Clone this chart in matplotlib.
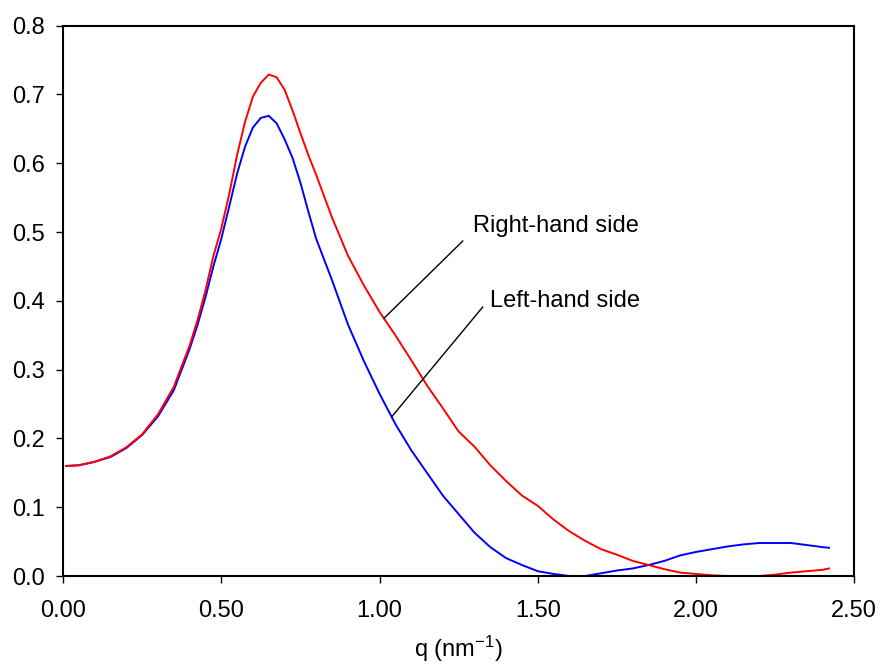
import matplotlib
matplotlib.use('Agg')
import matplotlib.pyplot as plt

plt.rcParams['font.family'] = ['Liberation Sans', 'DejaVu Sans']
plt.rcParams['mathtext.default'] = 'regular'

# scattering vector (nm^-1)
q = [0.01, 0.05, 0.10, 0.15, 0.20, 0.25, 0.30, 0.35, 0.40, 0.425, 0.45, 0.475,
     0.50, 0.525, 0.55, 0.575, 0.60, 0.625, 0.65, 0.675, 0.70, 0.725, 0.75,
     0.775, 0.80, 0.85, 0.90, 0.95, 1.00, 1.05, 1.10, 1.15, 1.20, 1.25, 1.30,
     1.35, 1.40, 1.45, 1.50, 1.55, 1.60, 1.65, 1.70, 1.75, 1.80, 1.85, 1.90,
     1.95, 2.00, 2.05, 2.10, 2.15, 2.20, 2.25, 2.30, 2.35, 2.40, 2.42]

right_side = [0.160, 0.161, 0.166, 0.174, 0.187, 0.206, 0.235, 0.275, 0.335, 0.372,
              0.415, 0.465, 0.505, 0.555, 0.612, 0.660, 0.697, 0.717, 0.729, 0.725,
              0.707, 0.677, 0.644, 0.612, 0.583, 0.521, 0.466, 0.423, 0.384, 0.350,
              0.314, 0.277, 0.244, 0.210, 0.188, 0.161, 0.138, 0.117, 0.102, 0.082,
              0.065, 0.051, 0.039, 0.031, 0.022, 0.016, 0.010, 0.005, 0.003, 0.001,
              0.0, 0.0, 0.0, 0.002, 0.005, 0.007, 0.009, 0.011]

left_side = [0.160, 0.161, 0.166, 0.173, 0.186, 0.205, 0.232, 0.270, 0.330, 0.365,
             0.405, 0.450, 0.490, 0.537, 0.585, 0.624, 0.652, 0.666, 0.669, 0.658,
             0.635, 0.608, 0.572, 0.530, 0.490, 0.430, 0.366, 0.313, 0.265, 0.221,
             0.183, 0.150, 0.117, 0.090, 0.063, 0.042, 0.026, 0.016, 0.007, 0.003,
             0.0, 0.0, 0.004, 0.008, 0.011, 0.016, 0.022, 0.030, 0.035, 0.039,
             0.043, 0.046, 0.048, 0.048, 0.048, 0.045, 0.042, 0.041]

xticks = [0.0, 0.5, 1.0, 1.5, 2.0, 2.5]
yticks = [0.0, 0.1, 0.2, 0.3, 0.4, 0.5, 0.6, 0.7, 0.8]

fig = plt.figure(figsize=(8.8, 6.64), dpi=100)
ax = fig.add_axes([0.0716, 0.1325, 0.8992, 0.8288])

ax.plot(q, left_side, color='#0000ff', lw=1.4)
ax.plot(q, right_side, color='#ff0000', lw=1.4)

ax.set_xlim(0, 2.5)
ax.set_ylim(0, 0.8)
ax.set_xticks(xticks)
ax.set_xticklabels([f'{t:.2f}' for t in xticks])
ax.set_yticks(yticks)
ax.set_yticklabels([f'{t:.1f}' for t in yticks])
ax.tick_params(axis='both', direction='out', length=5, width=1, labelsize=17)
ax.tick_params(axis='x', pad=12)
ax.tick_params(axis='y', pad=8)
for s in ax.spines.values():
    s.set_linewidth(1.5)

ax.set_xlabel('q (nm$^{\\mathregular{-1}}$)', fontsize=17, labelpad=9)

# callout lines
ax.plot([1.014, 1.263], [0.3746, 0.487], color='black', lw=1)
ax.text(1.294, 0.509, 'Right-hand side', fontsize=17, va='center', ha='left')
ax.plot([1.0385, 1.326], [0.2315, 0.391], color='black', lw=1)
ax.text(1.349, 0.400, 'Left-hand side', fontsize=17, va='center', ha='left')

fig.savefig('out.png', dpi=100)
